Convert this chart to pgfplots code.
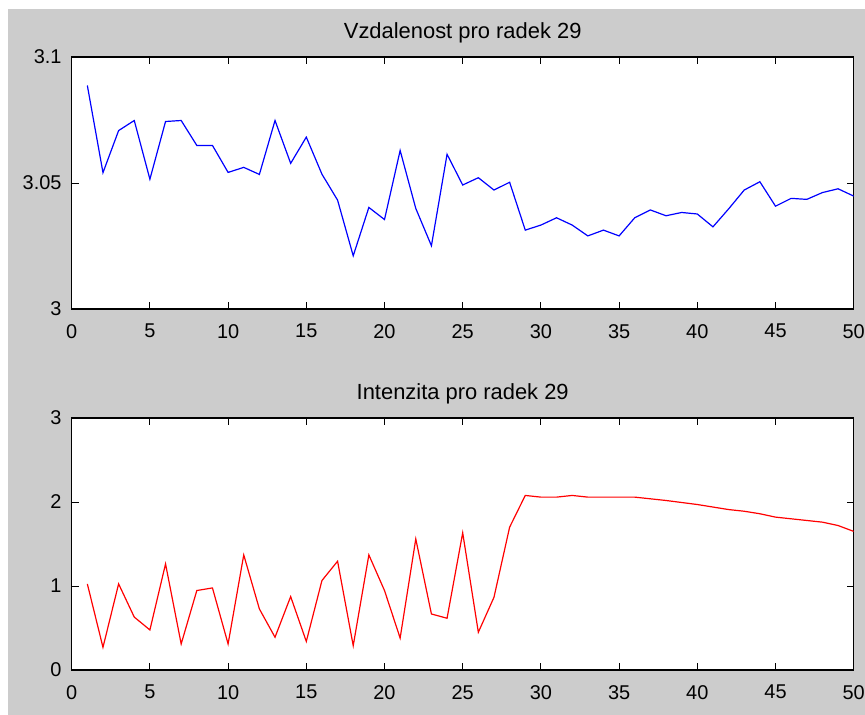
\documentclass[border=0pt]{standalone}
\usepackage{pgfplots}
\pgfplotsset{compat=1.18}
\usepackage{fontspec}
\setmainfont{Liberation Sans}
\definecolor{figgray}{RGB}{204,204,204}

\pgfplotsset{
  matlabstyle/.style={
    scale only axis,
    width=782bp, height=252bp,
    xmin=0, xmax=50,
    xtick={0,5,...,50},
    tick align=inside,
    major tick length=7bp,
    tick style={black, line width=0.9bp},
    axis line style={black, line width=1.1bp},
    axis background/.style={fill=white},
    ticklabel style={font=\fontsize{20}{23}\selectfont, inner sep=0pt},
    /pgf/number format/assume math mode=true,
    xticklabel style={anchor=north, yshift=-15bp},
    yticklabel style={anchor=east, xshift=-10bp},
    title style={font=\fontsize{22}{25}\selectfont, anchor=base,
                 inner sep=0pt, yshift=13bp},
    anchor=south west,
  }
}

\pgfplotstableread{
x y
1 3.0887
2 3.0541
3 3.0708
4 3.0748
5 3.0515
6 3.0744
7 3.0748
8 3.0649
9 3.0649
10 3.0542
11 3.0562
12 3.0534
13 3.0748
14 3.0578
15 3.0682
16 3.0535
17 3.0432
18 3.0211
19 3.0403
20 3.0355
21 3.0629
22 3.0399
23 3.0251
24 3.0614
25 3.0492
26 3.0521
27 3.0472
28 3.0503
29 3.0313
30 3.0333
31 3.0362
32 3.0333
33 3.0290
34 3.0313
35 3.0290
36 3.0362
37 3.0393
38 3.0370
39 3.0383
40 3.0377
41 3.0326
42 3.0397
43 3.0472
44 3.0505
45 3.0408
46 3.0439
47 3.0435
48 3.0462
49 3.0477
50 3.0448
}\distdata

\pgfplotstableread{
x y
1 1.025
2 0.27
3 1.025
4 0.63
5 0.477
6 1.263
7 0.31
8 0.946
9 0.977
10 0.31
11 1.37
12 0.727
13 0.39
14 0.874
15 0.34
16 1.065
17 1.295
18 0.29
19 1.37
20 0.946
21 0.38
22 1.56
23 0.667
24 0.616
25 1.633
26 0.449
27 0.866
28 1.70
29 2.078
30 2.058
31 2.058
32 2.078
33 2.058
34 2.058
35 2.058
36 2.058
37 2.038
38 2.018
39 1.994
40 1.97
41 1.94
42 1.91
43 1.89
44 1.86
45 1.82
46 1.80
47 1.78
48 1.76
49 1.72
50 1.65
}\intdata

\begin{document}
\begin{tikzpicture}
\fill[white] (0,0) rectangle (865bp,715bp);
\fill[figgray] (7.5bp,0) rectangle (865bp,705.7bp);

% upper panel: distance
\begin{axis}[matlabstyle,
  at={(71.7bp,406bp)},
  ymin=3, ymax=3.1,
  ytick={3,3.05,3.1},
  yticklabels={3,3.05,3.1},
  title={Vzdalenost pro radek 29},
]
\addplot[blue, line width=1.2bp] table[x=x,y=y] {\distdata};
\end{axis}

% lower panel: intensity
\begin{axis}[matlabstyle,
  at={(71.7bp,45bp)},
  ymin=0, ymax=3,
  ytick={0,1,2,3},
  title={Intenzita pro radek 29},
]
\addplot[red, line width=1.2bp] table[x=x,y=y] {\intdata};
\end{axis}

\pgfresetboundingbox
\useasboundingbox (0,0) rectangle (865bp,715bp);
\end{tikzpicture}
\end{document}
